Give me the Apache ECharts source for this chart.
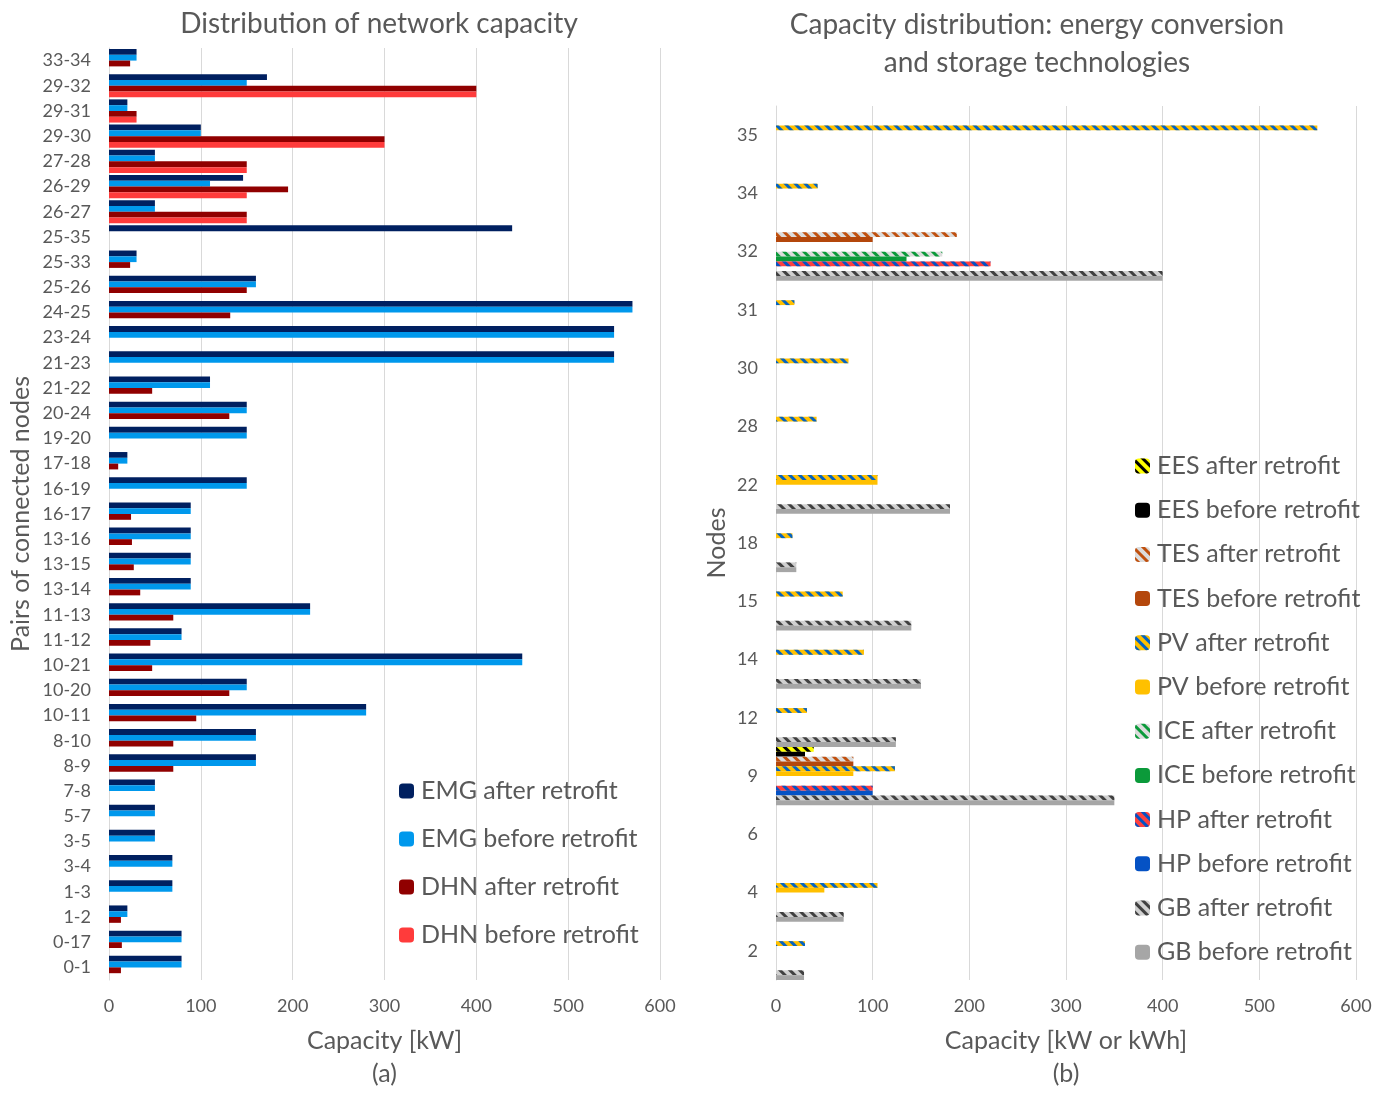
<!DOCTYPE html>
<html>
<head>
<meta charset="utf-8">
<title>Network and technology capacity</title>
<script src="https://cdn.jsdelivr.net/npm/echarts@6/dist/echarts.min.js"></script>
<style>
  html, body { margin: 0; padding: 0; background: #ffffff; }
  #chart { width: 1386px; height: 1095px; }
</style>
</head>
<body>
<div id="chart"></div>
<script>
// ---- (a) network links: capacity in kW, listed bottom to top ----
const pairs = ['0-1','0-17','1-2','1-3','3-4','3-5','5-7','7-8','8-9','8-10','10-11','10-20','10-21','11-12','11-13','13-14','13-15','13-16','16-17','16-19','17-18','19-20','20-24','21-22','21-23','23-24','24-25','25-26','25-33','25-35','26-27','26-29','27-28','29-30','29-31','29-32','33-34'];
const emgAfter  = [79,79,20,69,69,50,50,50,160,160,280,150,450,79,219,89,89,89,89,150,20,150,150,110,550,550,570,160,30,439,50,146,50,100,20,172,30];
const emgBefore = [79,79,20,69,69,50,50,50,160,160,280,150,450,79,219,89,89,89,89,150,20,150,150,110,550,550,570,160,30,0,50,110,50,100,20,150,30];
const dhnAfter  = [13,14,13,0,0,0,0,0,70,70,95,131,47,45,70,34,27,25,24,0,10,0,131,47,0,0,132,150,23,0,150,195,150,300,30,400,23];
const dhnBefore = [0,0,0,0,0,0,0,0,0,0,0,0,0,0,0,0,0,0,0,0,0,0,0,0,0,0,0,0,0,0,150,150,150,300,30,400,0];

// ---- (b) conversion and storage units per node, kW or kWh, bottom to top ----
const nodes = ['2','4','6','9','12','14','15','18','22','28','30','31','32','34','35'];
const eesAfter  = [0,0,0,39,0,0,0,0,0,0,0,0,0,0,0];
const eesBefore = [0,0,0,30,0,0,0,0,0,0,0,0,0,0,0];
const tesAfter  = [0,0,0,80,0,0,0,0,0,0,0,0,187,0,0];
const tesBefore = [0,0,0,80,0,0,0,0,0,0,0,0,100,0,0];
const pvAfter   = [30,105,0,123,32,91,69,17,105,42,75,19,0,43,560];
const pvBefore  = [0,50,0,80,0,0,0,0,105,0,0,0,0,0,0];
const iceAfter  = [0,0,0,0,0,0,0,0,0,0,0,0,172,0,0];
const iceBefore = [0,0,0,0,0,0,0,0,0,0,0,0,135,0,0];
const hpAfter   = [0,0,0,100,0,0,0,0,0,0,0,0,222,0,0];
const hpBefore  = [0,0,0,100,0,0,0,0,0,0,0,0,0,0,0];
const gbAfter   = [29,70,0,350,124,150,140,21,180,0,0,0,400,0,0];
const gbBefore  = [29,70,0,350,124,150,140,21,180,0,0,0,400,0,0];

const axisTicks = [0, 100, 200, 300, 400, 500, 600];

const FONT = 'Lato';
const TEXT = '#595959';
const GRIDLINE = '#d9d9d9';

// hatched fill used for the "after retrofit" technologies
function stripes(base, stripe) {
  return {
    color: base,
    decal: {
      symbol: 'rect',
      symbolSize: 1,
      color: stripe,
      dashArrayX: [1, 0],
      dashArrayY: [3, 4],
      rotation: Math.PI / 4
    }
  };
}

function barA(name, data, color) {
  return {
    name, type: 'bar', data,
    xAxisIndex: 0, yAxisIndex: 0,
    barGap: '0%', barCategoryGap: '8%',
    itemStyle: { color },
    emphasis: { disabled: true }
  };
}

function barB(name, data, itemStyle) {
  return {
    name, type: 'bar', data,
    xAxisIndex: 1, yAxisIndex: 1,
    barGap: '0%', barCategoryGap: '0%',
    itemStyle,
    emphasis: { disabled: true }
  };
}

const valueAxis = (gridIndex, name) => ({
  type: 'value', gridIndex,
  min: axisTicks[0], max: axisTicks[axisTicks.length - 1], interval: 100,
  axisLine: { show: false }, axisTick: { show: false },
  axisLabel: { color: TEXT, fontFamily: FONT, fontSize: 18, margin: 17 },
  splitLine: { lineStyle: { color: GRIDLINE, width: 1 } },
  name, nameLocation: 'middle', nameGap: 44,
  nameTextStyle: { color: TEXT, fontFamily: FONT, fontSize: 25, lineHeight: 33 }
});

const categoryAxis = (gridIndex, data, name, nameGap) => ({
  type: 'category', gridIndex, data,
  axisLine: { show: true, lineStyle: { color: GRIDLINE, width: 1 } },
  axisTick: { show: false },
  axisLabel: { color: TEXT, fontFamily: FONT, fontSize: 18, margin: 18, interval: 0 },
  name, nameLocation: 'middle', nameGap, nameRotate: 90,
  nameTextStyle: { color: TEXT, fontFamily: FONT, fontSize: 25 }
});

const legendText = { color: TEXT, fontFamily: FONT, fontSize: 25, lineHeight: 26, padding: [0, 0, 0, 2] };

const option = {
  animation: false,
  backgroundColor: '#ffffff',
  textStyle: { fontFamily: FONT },
  title: [
    {
      text: 'Distribution of network capacity',
      left: 374, top: 5, textAlign: 'center',
      textStyle: { color: TEXT, fontFamily: FONT, fontSize: 28, fontWeight: 'normal' }
    },
    {
      text: 'Capacity distribution: energy conversion\nand storage technologies',
      left: 1032, top: 1, textAlign: 'center',
      textStyle: { color: TEXT, fontFamily: FONT, fontSize: 28, fontWeight: 'normal', lineHeight: 38 }
    }
  ],
  legend: [
    {
      orient: 'vertical', left: 394, top: 773,
      itemWidth: 15, itemHeight: 15, itemGap: 22,
      data: ['EMG after retrofit', 'EMG before retrofit', 'DHN after retrofit', 'DHN before retrofit'],
      textStyle: legendText
    },
    {
      orient: 'vertical', left: 1130, top: 448,
      itemWidth: 15, itemHeight: 15, itemGap: 18.2,
      data: ['EES after retrofit', 'EES before retrofit', 'TES after retrofit', 'TES before retrofit',
             'PV after retrofit', 'PV before retrofit', 'ICE after retrofit', 'ICE before retrofit',
             'HP after retrofit', 'HP before retrofit', 'GB after retrofit', 'GB before retrofit'],
      textStyle: legendText
    }
  ],
  grid: [
    { left: 109, top: 48, width: 551, height: 942, containLabel: false },
    { left: 776, top: 106, width: 580, height: 883, containLabel: false }
  ],
  xAxis: [
    valueAxis(0, 'Capacity [kW]\n(a)'),
    valueAxis(1, 'Capacity [kW or kWh]\n(b)')
  ],
  yAxis: [
    categoryAxis(0, pairs, 'Pairs of connected nodes', 76),
    categoryAxis(1, nodes, 'Nodes', 47)
  ],
  series: [
    barA('EMG after retrofit', emgAfter, '#002060'),
    barA('EMG before retrofit', emgBefore, '#0098EC'),
    barA('DHN after retrofit', dhnAfter, '#900000'),
    barA('DHN before retrofit', dhnBefore, '#FF3B3B'),

    barB('EES after retrofit', eesAfter, stripes('#FFFF00', '#000000')),
    barB('EES before retrofit', eesBefore, { color: '#000000' }),
    barB('TES after retrofit', tesAfter, stripes('#DCDCDC', '#C0500E')),
    barB('TES before retrofit', tesBefore, { color: '#B4470C' }),
    barB('PV after retrofit', pvAfter, stripes('#FFC000', '#0563C1')),
    barB('PV before retrofit', pvBefore, { color: '#FFC000' }),
    barB('ICE after retrofit', iceAfter, stripes('#DCDCDC', '#0B9A3A')),
    barB('ICE before retrofit', iceBefore, { color: '#0B9A3A' }),
    barB('HP after retrofit', hpAfter, stripes('#FF4040', '#0552C4')),
    barB('HP before retrofit', hpBefore, { color: '#0552C4' }),
    barB('GB after retrofit', gbAfter, stripes('#D0D0D0', '#404040')),
    barB('GB before retrofit', gbBefore, { color: '#A6A6A6' })
  ]
};

const chart = echarts.init(document.getElementById('chart'), null, { renderer: 'canvas' });
chart.setOption(option);
</script>
</body>
</html>
